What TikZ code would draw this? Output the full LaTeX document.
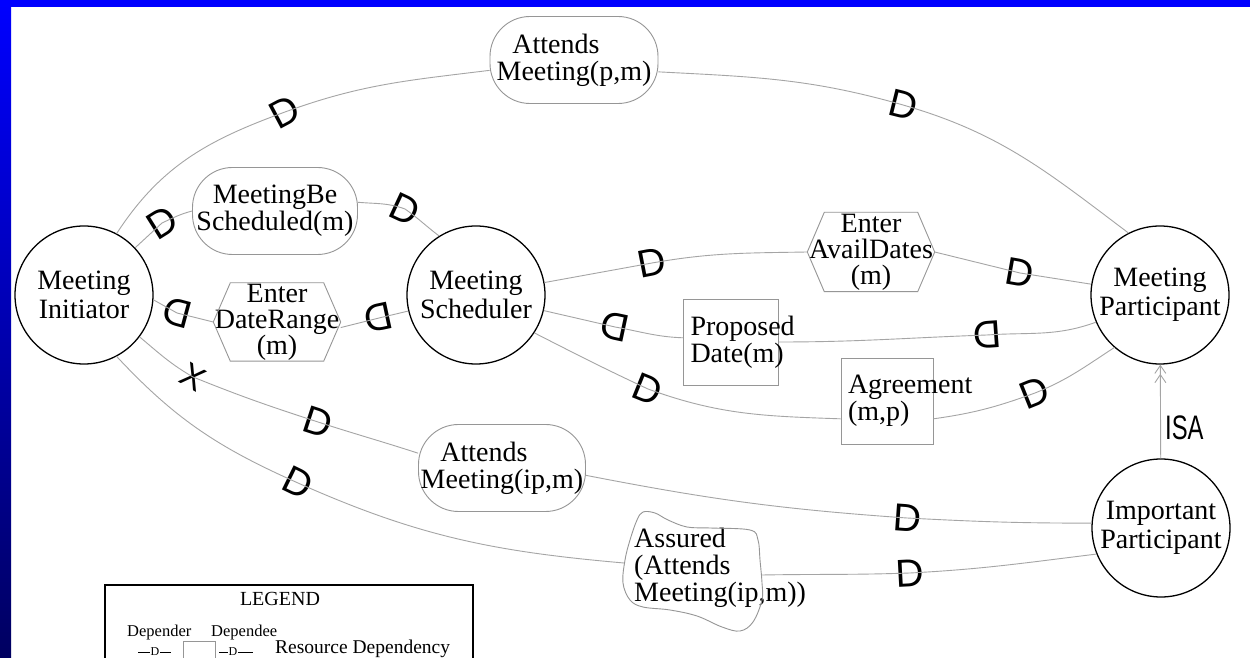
\documentclass[tikz,border=0pt]{standalone}
\usepackage{fontspec}
\setmainfont{Liberation Serif}
\newfontfamily\sansD{Liberation Sans}
\usetikzlibrary{calc,arrows.meta}
\definecolor{bgblue}{RGB}{0,0,255}
\definecolor{bgnavy}{RGB}{0,0,96}
\definecolor{lnc}{RGB}{165,165,165}
\definecolor{shc}{RGB}{150,150,150}
\begin{document}
\begin{tikzpicture}[x=1pt,y=1pt,
  myactor/.style={circle,draw=black,line width=1.3pt,minimum size=138pt,inner sep=0pt,align=center,font=\fontsize{28}{29}\selectfont},
  mygoal/.style={rectangle,rounded corners=40pt,draw=shc,line width=0.9pt,minimum height=87pt,inner sep=0pt,align=center,font=\fontsize{28}{27}\selectfont},
  mytask/.style={rectangle,minimum width=127pt,minimum height=78pt,inner sep=0pt,align=center,font=\fontsize{28}{26}\selectfont},
  myres/.style={rectangle,draw=shc,line width=0.9pt,minimum height=86pt,inner xsep=7pt,inner ysep=0pt,align=left,font=\fontsize{28}{27}\selectfont},
  dmark/.style={font=\sansD\fontsize{39}{39}\selectfont,inner sep=0pt},
  mylink/.style={draw=lnc,line width=0.9pt},
  myoutline/.style={draw=shc,line width=0.9pt},
  legtext/.style={inner sep=0pt,anchor=base west},
]
\useasboundingbox (0,0) rectangle (1250,658);
\fill[white] (0,0) rectangle (1250,658);
\shade[top color=bgblue,bottom color=bgnavy] (0,0) rectangle (11,658);
\fill[bgblue] (0,651) rectangle (1250,658);

% actors
\node[myactor] (init) at (84,363) {Meeting\\Initiator};
\node[myactor] (sched) at (476,363) {Meeting\\Scheduler};
\node[myactor] (part) at (1160,363) {Meeting\\Participant};
\node[myactor] (imp) at (1161,130) {Important\\Participant};

% goals
\node[mygoal,minimum width=168pt] (attP) at (574,598) {Attends\hspace*{36pt}\\Meeting(p,m)};
\node[mygoal,minimum width=165pt] (mbs) at (275,447) {MeetingBe\\Scheduled(m)};
\node[mygoal,minimum width=167pt] (attIP) at (502,190) {Attends\hspace*{36pt}\\Meeting(ip,m)};

% tasks (hexagons)
\node[mytask] (edr) at (277,336) {Enter\\DateRange\\(m)};
\draw[myoutline] ($(edr.north west)+(17,0)$) -- ($(edr.north east)+(-17,0)$) -- (edr.east)
  -- ($(edr.south east)+(-17,0)$) -- ($(edr.south west)+(17,0)$) -- (edr.west) -- cycle;
\node[mytask,minimum height=79pt] (ead) at (871,406) {Enter\\AvailDates\\(m)};
\draw[myoutline] ($(ead.north west)+(17,0)$) -- ($(ead.north east)+(-17,0)$) -- (ead.east)
  -- ($(ead.south east)+(-17,0)$) -- ($(ead.south west)+(17,0)$) -- (ead.west) -- cycle;

% resources
\node[myres,text width=81pt] (pd) at (731,316) {Proposed\\Date(m)};
\node[myres,text width=78pt] (agr) at (887,257) {Agreement\\(m,p)};

% softgoal (cloud)
\node[anchor=west,inner sep=0pt,align=left,font=\fontsize{28}{27}\selectfont] (assured) at (634,90) {Assured\\(Attends\\Meeting(ip,m))};
\draw[myoutline] plot[smooth cycle,tension=0.6] coordinates {
  (643,146) (655,145) (668,138) (687,131) (710,130) (750,128) (758,118) (760,98)
  (762,75) (762,58) (753,36) (740,27) (722,31) (697,42) (670,48) (643,51)
  (630,58) (623,75) (625,98) (630,118) (637,138)};
\coordinate (asl) at (624,95);
\coordinate (asr) at (762,83);

% dependency marks
\node[dmark,rotate=28] (d1) at (285,546) {D};
\node[dmark,rotate=-14] (d2) at (903,553) {D};
\node[dmark,rotate=32] (d3) at (162,435) {D};
\node[dmark,rotate=-25] (d4) at (405,449) {D};
\node[dmark,rotate=165] (d5) at (177,345) {D};
\node[dmark,rotate=192] (d6) at (379,340) {D};
\node[dmark,rotate=11] (d7) at (652,395) {D};
\node[dmark,rotate=-10] (d8) at (1020,385) {D};
\node[dmark,rotate=168] (d9) at (615,331) {D};
\node[dmark,rotate=184] (d10) at (987,323) {D};
\node[dmark,rotate=-22] (d11) at (648,269) {D};
\node[dmark,rotate=22] (d12) at (1035,265) {D};
\node[dmark,rotate=-30,font=\sansD\fontsize{34}{34}\selectfont] (x1) at (193,281) {X};
\node[dmark,rotate=-18] (d14) at (318,236) {D};
\node[dmark,rotate=-26] (d15) at (298,175) {D};
\node[dmark,rotate=-4] (d16) at (907,140) {D};
\node[dmark,rotate=3] (d17) at (910,85) {D};

% connectors
\draw[mylink] (init.62) to[out=57,in=200] (d1.center) to[out=20,in=187] (attP.187);
\draw[mylink] (attP.-8) to[out=-3,in=164] (d2.center) to[out=-16,in=143] (part.117);
\draw[mylink] (init) -- (d3.center) to[out=25,in=195] (mbs.west);
\draw[mylink] (mbs.6) to[out=-5,in=160] (d4.center) to[out=-35,in=143] (sched.122);
\draw[mylink] (init.-4) -- (d5.center) -- (edr.west);
\draw[mylink] (edr.-5) -- (d6.center) -- (sched);
\draw[mylink] (sched) -- (d7.center) to[out=10,in=181] (ead.west);
\draw[mylink] (ead.east) -- (d8.center) -- (part);
\draw[mylink] (sched) -- (d9.center) to[out=-10,in=178] (pd.175);
\draw[mylink] (pd.east) to[out=0,in=182] (d10.center) to[out=4,in=200] (part.203);
\draw[mylink] (sched.-33) to[out=-27,in=155] (d11.center) to[out=-20,in=178] (agr.201);
\draw[mylink] (agr.-21) to[out=8,in=200] (d12.center) to[out=22,in=213] (part.229);
\draw[mylink] (init.-37) to[out=-40,in=150] (x1.center) to[out=-22,in=162] (d14.center) to[out=-18,in=162] (attIP.170);
\draw[mylink] (attIP.-5) to[out=-11,in=176] (d16.center) to[out=-3,in=180] (imp.176);
\draw[mylink] (init.-62) to[out=-47,in=156] (d15.center) to[out=-24,in=175] (asl);
\draw[mylink] (asr) to[out=1,in=182] (d17.center) to[out=3,in=187] (imp.202);

% ISA
\draw[draw=lnc,line width=0.9pt,-{Straight Barb[length=8pt,width=11pt] Straight Barb[length=8pt,width=11pt]}] (imp) -- (part);
\node[anchor=base west,font=\sansD\fontsize{34}{34}\selectfont,xscale=0.7,inner sep=0pt] (isa) at (1165,218) {ISA};

% legend
\draw[line width=2pt] (105,-10) -- (105,73) -- (473,73) -- (473,-10);
\node[font=\fontsize{20}{20}\selectfont,anchor=base,inner sep=0pt] (lg) at (280,52) {LEGEND};
\node[legtext,font=\fontsize{16.5}{17}\selectfont] (ldr) at (127,21) {Depender};
\node[legtext,font=\fontsize{16.5}{17}\selectfont] (lde) at (211,21) {Dependee};
\node[legtext,font=\fontsize{19.5}{20}\selectfont] (lrd) at (275,4) {Resource Dependency};
\node[font=\fontsize{12}{12}\selectfont,anchor=base,inner sep=0pt] (ld1) at (155,2) {D};
\node[font=\fontsize{12}{12}\selectfont,anchor=base,inner sep=0pt] (ld2) at (233,2) {D};
\draw[line width=0.6pt] (138,6) -- (150,6) (160,6) -- (171,6);
\draw[line width=0.6pt] (219,6) -- (228,6) (238,6) -- (253,6);
\draw[shc,line width=0.8pt] (183,-10) rectangle (215,17);
\end{tikzpicture}
\end{document}
